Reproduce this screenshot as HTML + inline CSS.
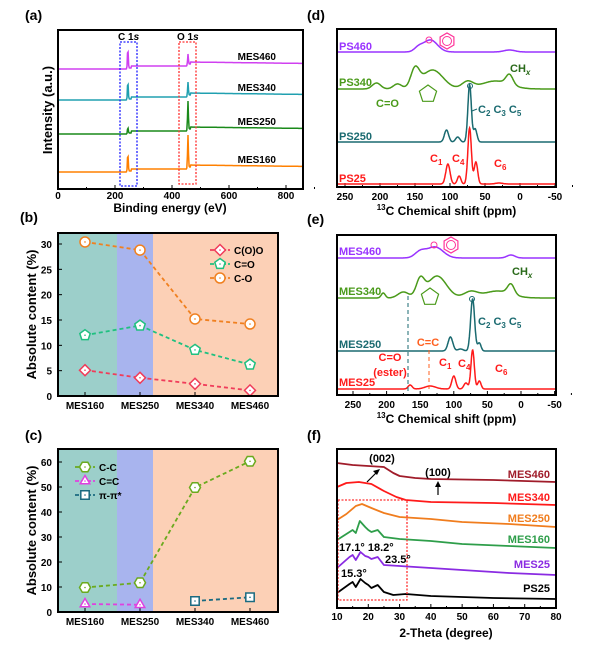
<!DOCTYPE html>
<html><head><meta charset="utf-8"><style>
body{margin:0;background:#fff}
svg text{font-family:"Liberation Sans",sans-serif;font-weight:bold}
</style></head><body>
<svg id="fig" width="600" height="650" viewBox="0 0 600 650" xmlns="http://www.w3.org/2000/svg"></svg>
<script>
// ---------- DATA ----------
const xpsSeries=["MES460","MES340","MES250","MES160"];
const xpsBase=[69,100,134,172];
const xpsC=[20,18,6,18];
const xpsO=[10,13,28,32];
const cats=["MES160","MES250","MES340","MES460"];
const bCOO=[5.1,3.6,2.4,1.1];
const bCdO=[12.0,13.9,9.1,6.2];
const bCO=[30.4,28.8,15.2,14.2];
const bTicks=[0,5,10,15,20,25,30];
const cCC=[9.8,11.7,49.8,60.3];
const cCdC=[3.2,2.9,null,null];
const cPi=[null,null,4.4,5.9];
const cTicks=[0,10,20,30,40,50,60];
const dNames=["PS460","PS340","PS250","PS25"];
const dPeaks=[
 [[145,4,6],[128,12,10],[15,2,8]],
 [[205,6,6],[175,5,6],[150,18,6],[125,19,15],[75,7,8],[35,8,20],[15,10,5]],
 [[105,12,3],[89,5,3],[72,57,2.5],[64,13,2.5]],
 [[103,20,3],[87,8,2.5],[72,56,2.5],[63,22,2.5],[30,1,5]]];
const eNames=["MES460","MES340","MES250","MES25"];
const ePeaks=[
 [[150,6,8],[128,11,12],[15,3,6]],
 [[205,5,3],[175,6,8],[150,17,6],[125,22,14],[75,6,10],[35,7,20],[15,10,5]],
 [[105,14,3.5],[90,2,4],[72,52,3],[62,8,2.5]],
 [[165,4,3],[135,3,8],[100,13,3],[82,6,3],[72,39,2.5],[62,8,2.5]]];
const fNames=["MES460","MES340","MES250","MES160","MES25","PS25"];
const fData=[
 [[10,19],[15,17],[20,16],[25,15],[28,9],[30,6],[35,4],[40,3],[60,2],[80,0]],
 [[10,18],[13,22],[17,23],[21,21],[25,14],[29,8],[32,5],[40,3],[60,2],[80,0]],
 [[10,7],[13,13],[16,21],[18,23],[21,19],[25,14],[30,10],[40,8],[50,5],[65,3],[80,0]],
 [[10,8],[14,16],[15,18],[16,15],[17.3,27],[19,21],[20,18],[21,16],[23,18],[25,11],[30,9],[40,7],[50,4],[65,2],[80,0]],
 [[10,7],[14,18],[15,20],[16,15],[17.5,23],[19,19],[20,18],[21,16],[23,18],[25,10],[30,9],[40,7],[50,5],[65,2],[80,0]],
 [[10,6],[14,15],[15,17],[16,12],[17.5,20],[19,16],[20,14],[21,11],[23,14],[25,7],[28,4],[32,5],[40,3],[60,1],[80,0]]];
const fBase=[482,505,527,548,575,599];
const xpsCpos=245, xpsOpos=456;

// ---------- HELPERS ----------
const S="http://www.w3.org/2000/svg",svg=document.getElementById('fig');
function mk(t,a,p){const e=document.createElementNS(S,t);for(const k in a)e.setAttribute(k,a[k]);(p||svg).appendChild(e);return e;}
function tx(x,y,s,sz,fill,anchor,p){const e=mk('text',{x:x,y:y,'font-size':sz,fill:fill||'#000','text-anchor':anchor||'start'},p);e.textContent=s;return e;}
function box(x0,y0,x1,y1){const r=mk('rect',{x:x0,y:y0,width:x1-x0,height:y1-y0,fill:'none',stroke:'#000','stroke-width':2});}
function gauss(peaks,x){let s=0;for(const p of peaks)s+=p[1]*Math.exp(-0.5*((x-p[0])/p[2])**2);return s;}
function marker(type,x,y,col){let e;const r=5;
 if(type==='circle')e=mk('circle',{cx:x,cy:y,r:r});
 else{let n={diamond:4,pent:5,hex:6,tri:3,square:4}[type];let rot={diamond:-90,pent:-90,hex:0,tri:-90,square:45}[type];let rr=type==='square'?6:r+0.5;
  let pts=[];for(let i=0;i<n;i++){let a=(rot+i*360/n)*Math.PI/180;pts.push((x+rr*Math.cos(a)).toFixed(1)+','+(y+rr*Math.sin(a)).toFixed(1));}
  e=mk('polygon',{points:pts.join(' ')});}
 e.setAttribute('fill','#fff');e.setAttribute('stroke',col);e.setAttribute('stroke-width',1.5);
 mk('circle',{cx:x,cy:y,r:0.8,fill:col});return e;}

[["(a)",25,20],["(b)",20,222],["(c)",25,440],["(d)",307,20],["(e)",307,224],["(f)",307,440]].forEach(l=>{const t=tx(l[1],l[2],l[0],14);});

// ---------- (a) XPS ----------
(function(){
 const X=v=>58+v*0.285;
 const ax=[0,200,400,600,800];
 ax.forEach(v=>{mk('line',{x1:X(v),y1:189,x2:X(v),y2:185,stroke:'#000'});mk('line',{x1:X(v+100),y1:189,x2:X(v+100),y2:187,stroke:'#000'});const t=tx(X(v),199,String(v),10,'#000','middle');});
 const cols=['#d040f0','#20a0b0','#1a8a1a','#ff8000'];
 xpsSeries.forEach((n,i)=>{
  let pts=[];
  for(let e=0;e<=860;e+=2){
   let v=0;
   if(e>=xpsCpos)v+=1+(e>xpsCpos+12?2:0);
   if(e>=xpsOpos)v+=2+(e>xpsOpos+8?2:0)-(e>xpsOpos+8?(e-xpsOpos)/860*3:0);
   v+=xpsC[i]*Math.exp(-0.5*((e-xpsCpos)/1.5)**2);
   v+=xpsO[i]*Math.exp(-0.5*((e-xpsOpos)/1.5)**2);
   pts.push(X(e).toFixed(1)+','+(xpsBase[i]-v).toFixed(1));
  }
  const l=mk('polyline',{points:pts.join(' '),fill:'none',stroke:cols[i],'stroke-width':1.5});
  
  const t=tx(276,xpsBase[i]-9,n,10,'#000','end');
 });
 const b1=mk('rect',{x:120,y:42,width:17,height:144,fill:'none',stroke:'#2020ff','stroke-width':1.3,'stroke-dasharray':'2,1.5'});
 const b2=mk('rect',{x:179,y:42,width:17,height:142,fill:'none',stroke:'#ff3030','stroke-width':1.3,'stroke-dasharray':'2,1.5'});
 let t=tx(118,40,'',10);t.innerHTML='C 1<tspan font-style="italic">s</tspan>';
 t=tx(177,40,'',10);t.innerHTML='O 1<tspan font-style="italic">s</tspan>';
 box(58,30,303,189);
 t=tx(170,212,'Binding energy (eV)',12,'#000','middle');
 t=tx(0,0,'Intensity (a.u.)',13,'#000','middle');t.setAttribute('transform','translate(52,110) rotate(-90)');
})();

// ---------- (b),(c) ----------
function catPanel(top,bot,pxPerUnit,ticks,series,legendPos,legX){
 const X=i=>85+i*55, Y=v=>bot-v*pxPerUnit;
 [[58,117,'#9ccfca'],[117,153,'#a8b4ee'],[153,278,'#fcd0b6']].forEach(r=>{const e=mk('rect',{x:r[0],y:top,width:r[1]-r[0],height:bot-top,fill:r[2]});});
 ticks.forEach(v=>{mk('line',{x1:58,y1:Y(v),x2:62,y2:Y(v),stroke:'#000'});const t=tx(52,Y(v)+4,String(v),10,'#000','end');});
 cats.forEach((c,i)=>{mk('line',{x1:X(i),y1:bot,x2:X(i),y2:bot-4,stroke:'#000'});const t=tx(X(i),bot+13,c,10,'#000','middle');});
 series.forEach((s,k)=>{
  let seg=[];s.v.forEach((v,i)=>{if(v!==null)seg.push(X(i)+','+Y(v));});
  const l=mk('polyline',{points:seg.join(' '),fill:'none',stroke:s.c,'stroke-width':1.8,'stroke-dasharray':'4,3'});
  
  s.v.forEach((v,i)=>{if(v!==null){const m=marker(s.m,X(i),Y(v),s.c);}});
  const ly=legendPos+k*14;
  const ll=mk('line',{x1:legX,y1:ly,x2:legX+20,y2:ly,stroke:s.c,'stroke-width':1.8,'stroke-dasharray':'4,2'});
  const lm=marker(s.m,legX+10,ly,s.c);
  const lt=tx(legX+24,ly+4,s.n,10);
 });
 box(58,top,278,bot);
 const t=tx(0,0,'Absolute content (%)',13,'#000','middle');t.setAttribute('transform','translate(36,'+((top+bot)/2)+') rotate(-90)');
}
catPanel(233,396,(396-244)/30,bTicks,[
 {id:'coo',n:'C(O)O',v:bCOO,c:'#f03c5a',m:'diamond'},
 {id:'c-double-o',n:'C=O',v:bCdO,c:'#20c080',m:'pent'},
 {id:'c-o',n:'C-O',v:bCO,c:'#f08020',m:'circle'}],250,210);
catPanel(449,612,(612-462)/60,cTicks,[
 {id:'c-c',n:'C-C',v:cCC,c:'#6aaa1e',m:'hex'},
 {id:'c-double-c',n:'C=C',v:cCdC,c:'#e040e0',m:'tri'},
 {id:'pi-pi',n:'π-π*',v:cPi,c:'#1a6a80',m:'square'}],467,75);

// ---------- NMR ----------
function nmr(x0,x1,top,bot,z250,zero,names,peaks,bases,cols,labY){
 const k=(zero-z250)/250, X=p=>zero-p*k;
 [250,200,150,100,50,0,-50].forEach(v=>{mk('line',{x1:X(v),y1:bot,x2:X(v),y2:bot-4,stroke:'#000'});mk('line',{x1:X(v-25),y1:bot,x2:X(v-25),y2:bot-2,stroke:'#000'});const t=tx(X(v),bot+13,String(v),10,'#000','middle');});
 const pmax=(zero-x0)/k,pmin=(zero-x1)/k;
 names.forEach((n,i)=>{let pts=[];for(let p=pmax;p>=pmin;p-=0.5)pts.push(X(p).toFixed(1)+','+(bases[i]-gauss(peaks[i],p)).toFixed(1));
  const l=mk('polyline',{points:pts.join(' '),fill:'none',stroke:cols[i],'stroke-width':1.5});
  const t=tx(x0+2,labY[i],n,11,cols[i]);});
 box(x0,top,x1,bot);
 const t=tx((x0+x1)/2,bot+28,'',12,'#000','middle');t.innerHTML='<tspan font-size="8" dy="-5">13</tspan><tspan dy="5">C Chemical shift (ppm)</tspan>';
 return X;
}
function benz(cx,cy,c){const g=mk('g',{});let p=[];for(let i=0;i<6;i++){let a=(30+i*60)*Math.PI/180;p.push((cx+8*Math.cos(a)).toFixed(1)+','+(cy+8*Math.sin(a)).toFixed(1));}mk('polygon',{points:p.join(' '),fill:'none',stroke:c,'stroke-width':1.2},g);mk('circle',{cx:cx,cy:cy,r:4.5,fill:'none',stroke:c},g);}
function furan(cx,cy,c){const g=mk('g',{});let p=[];for(let i=0;i<5;i++){let a=(-90+i*72)*Math.PI/180;p.push((cx+9*Math.cos(a)).toFixed(1)+','+(cy+9*Math.sin(a)).toFixed(1));}mk('polygon',{points:p.join(' '),fill:'none',stroke:c,'stroke-width':1.2},g);}
function sub(x,y,parts,c,sz){const t=tx(x,y,'',sz||11,c);t.innerHTML=parts;return t;}
const nmrCols=['#9933ff','#4a9a1a','#1a6a70','#ff1a1a'];
nmr(337,556,29,187,345,520,dNames,dPeaks,[52,89,142,184],nmrCols,[50,86,140,182]);
benz(447,41,'#ff3399');mk('circle',{cx:429,cy:40,r:3,fill:'none',stroke:'#ff3399'});
furan(428,94,'#4a9a1a');
let t;
t=sub(510,72,'CH<tspan font-size="8" dy="3" font-style="italic">x</tspan>','#2a6a1a');
t=tx(376,107,'C=O',11,'#4a9a1a');
t=sub(478,113,'C<tspan font-size="8" dy="3">2</tspan><tspan dy="-3"> C</tspan><tspan font-size="8" dy="3">3</tspan><tspan dy="-3"> C</tspan><tspan font-size="8" dy="3">5</tspan>','#1a6a70');
t=sub(430,162,'C<tspan font-size="8" dy="3">1</tspan>','#ff1a1a');
t=sub(452,162,'C<tspan font-size="8" dy="3">4</tspan>','#ff1a1a');
t=sub(494,167,'C<tspan font-size="8" dy="3">6</tspan>','#ff1a1a');
mk('circle',{cx:470,cy:86,r:2.5,fill:'none',stroke:'#1a6a70'});
mk('line',{x1:477,y1:109,x2:472,y2:111,stroke:'#1a6a70'});

nmr(337,556,235,395,353,521,eNames,ePeaks,[258,298,351,389],nmrCols,[255,295,348,386]);
benz(451,245,'#ff3399');mk('circle',{cx:434,cy:245,r:3,fill:'none',stroke:'#ff3399'});
furan(430,297,'#4a9a1a');
mk('line',{x1:408,y1:296,x2:408,y2:392,stroke:'#1a6a70','stroke-dasharray':'4,3'});
mk('line',{x1:429,y1:350,x2:429,y2:390,stroke:'#ff6020','stroke-dasharray':'4,3'});
t=sub(512,275,'CH<tspan font-size="8" dy="3" font-style="italic">x</tspan>','#2a6a1a');
t=sub(478,325,'C<tspan font-size="8" dy="3">2</tspan><tspan dy="-3"> C</tspan><tspan font-size="8" dy="3">3</tspan><tspan dy="-3"> C</tspan><tspan font-size="8" dy="3">5</tspan>','#1a6a70');
t=tx(428,346,'C=C',11,'#ff6020','middle');
t=tx(390,361,'C=O',11,'#ff1a1a','middle');
t=tx(390,376,'(ester)',11,'#ff1a1a','middle');
t=sub(439,366,'C<tspan font-size="8" dy="3">1</tspan>','#ff1a1a');
t=sub(458,367,'C<tspan font-size="8" dy="3">4</tspan>','#ff1a1a');
t=sub(495,372,'C<tspan font-size="8" dy="3">6</tspan>','#ff1a1a');
mk('circle',{cx:472,cy:299,r:2.5,fill:'none',stroke:'#1a6a70'});

// ---------- (f) XRD ----------
(function(){
 const X=d=>337+(d-10)*(219/70);
 [10,20,30,40,50,60,70,80].forEach(v=>{mk('line',{x1:X(v),y1:608,x2:X(v),y2:604,stroke:'#000'});if(v<80)mk('line',{x1:X(v+5),y1:608,x2:X(v+5),y2:606,stroke:'#000'});const t=tx(X(v),620,String(v),10,'#000','middle');});
 const cols=['#a01c2a','#ff1a1a','#f07d1e','#2e9e4a','#8a2be2','#000'];
 const ly=[478,501,522,543,568,592];
 fNames.forEach((n,i)=>{const pts=fData[i].map(p=>X(p[0]).toFixed(1)+','+(fBase[i]-p[1]).toFixed(1));
  const l=mk('polyline',{points:pts.join(' '),fill:'none',stroke:cols[i],'stroke-width':1.8,'stroke-linejoin':'round'});
  const t=tx(550,ly[i],n,11,cols[i],'end');});
 const r=mk('rect',{x:338,y:500,width:69,height:100,fill:'none',stroke:'#ff3030','stroke-width':1.3,'stroke-dasharray':'2,1.5'});
 let t;
 t=tx(382,462,'(002)',11,'#000','middle');
 t=tx(438,476,'(100)',11,'#000','middle');
 mk('line',{x1:367,y1:482,x2:378,y2:471,stroke:'#000','stroke-width':1.2});mk('polygon',{points:'380,469 373,471 377,475',fill:'#000'});
 mk('line',{x1:438,y1:495,x2:438,y2:484,stroke:'#000','stroke-width':1.2});mk('polygon',{points:'438,481 435,487 441,487',fill:'#000'});
 t=tx(339,551,'17.1° 18.2°',11);
 t=tx(385,563,'23.5°',11);
 t=tx(341,577,'15.3°',11);
 box(337,449,556,608);
 t=tx(446,637,'2-Theta (degree)',12,'#000','middle');
})();
</script>
</body></html>
